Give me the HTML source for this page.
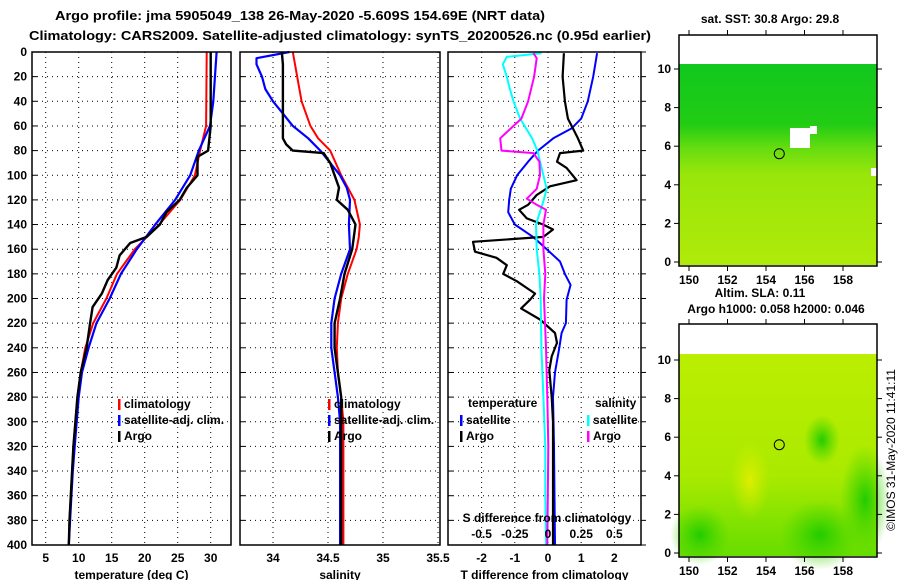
<!DOCTYPE html>
<html><head><meta charset="utf-8"><style>
html,body{margin:0;padding:0;background:#fff;}
svg{display:block;font-family:"Liberation Sans",sans-serif;font-weight:bold;}
</style></head><body>
<svg id="chart" width="900" height="580" viewBox="0 0 900 580" xmlns="http://www.w3.org/2000/svg">
<text x="300" y="20" font-size="13" text-anchor="middle" textLength="490" lengthAdjust="spacingAndGlyphs">Argo profile: jma 5905049_138 26-May-2020 -5.609S 154.69E (NRT data)</text>
<text x="340" y="40" font-size="13" text-anchor="middle" textLength="622" lengthAdjust="spacingAndGlyphs">Climatology: CARS2009. Satellite-adjusted climatology: synTS_20200526.nc (0.95d earlier)</text>
<g id="maps"></g>
<g id="plots"></g>
<text transform="translate(895,450) rotate(-90)" font-size="12" font-weight="normal" text-anchor="middle">©IMOS 31-May-2020 11:41:11</text>
</svg>
<script>
// ---- data ----
const depthTicks=[0,20,40,60,80,100,120,140,160,180,200,220,240,260,280,300,320,340,360,380,400];
const tempTicks=[5,10,15,20,25,30];
const salTicks=[34,34.5,35,35.5];
const tdiffTicks=[-2,-1,0,1,2];
const sdiffTicks=[-0.5,-0.25,0,0.25,0.5];
const sdiffTickLabels=['-0.5','-0.25','0','0.25','0.5'];

const tClimDepth=[0,60,80,100,120,140,160,180,200,220,240,260,280,300,320,340,360,380,400];
const tClim=[29.4,29.3,28.4,27.6,25.4,22.2,18.5,15.8,14.2,12.2,11.0,10.3,9.8,9.5,9.2,9.0,8.8,8.6,8.5];
const tSatDepth=[0,40,60,80,100,120,140,160,180,200,220,240,260,280,300,320,340,360,380,400];
const tSat=[30.9,30.4,29.9,28.2,26.9,24.6,21.6,18.8,16.4,14.7,12.7,11.5,10.5,10.0,9.7,9.4,9.1,8.9,8.7,8.5];
const tArgoDepth=[0,60,80,85,100,110,120,130,140,150,155,165,175,185,196,207,221,240,260,280,300,320,340,360,380,400];
const tArgo=[30.0,30.0,29.6,28.0,28.0,26.4,25.3,23.3,22.3,20.3,17.8,16.2,15.7,14.4,13.5,12.1,11.7,11.2,10.3,9.8,9.5,9.2,9.0,8.8,8.6,8.5];

const sClimDepth=[0,10,20,40,60,70,80,100,120,140,150,160,180,200,220,240,260,280,300,400];
const sClim=[34.18,34.20,34.22,34.26,34.34,34.41,34.52,34.62,34.74,34.79,34.78,34.76,34.68,34.62,34.59,34.58,34.59,34.62,34.64,34.64];
const sSatDepth=[0,5,10,20,30,40,50,60,70,80,90,100,110,120,140,160,180,200,220,240,260,280,300,400];
const sSat=[34.15,33.85,33.85,33.90,33.93,34.00,34.09,34.18,34.32,34.43,34.52,34.61,34.67,34.70,34.69,34.70,34.62,34.56,34.53,34.53,34.56,34.59,34.61,34.61];
const sArgoDepth=[0,10,70,75,80,82,90,100,110,115,120,128,140,160,180,200,220,240,260,280,400];
const sArgo=[34.08,34.09,34.09,34.12,34.18,34.46,34.52,34.56,34.60,34.59,34.58,34.68,34.75,34.72,34.65,34.61,34.56,34.56,34.59,34.62,34.62];

const dTArgoDepth=[1,20,40,54,62,70,80,82,89,94,104,109,116,124,128,135,140,144,150,154,162,167,173,180,186,196,201,208,217,228,236,247,258,280,300,400];
const dTArgo=[0.48,0.44,0.51,0.6,0.75,0.9,1.06,0.36,0.27,0.56,0.86,0.06,-0.34,-0.6,-0.87,-0.64,-0.15,0.15,-0.14,-2.26,-2.2,-1.55,-1.24,-1.35,-0.94,-0.39,-0.54,-0.81,-0.24,0.21,0.27,0.11,0.04,0.11,0.15,0.15];
const dTSatDepth=[1,20,40,54,62,70,80,89,100,111,120,130,140,150,160,170,180,189,201,220,228,240,260,280,320,400];
const dTSat=[1.48,1.36,1.2,1.0,0.71,0.16,-0.3,-0.6,-0.93,-1.12,-1.17,-1.2,-1.0,-0.45,-0.04,0.36,0.51,0.68,0.56,0.54,0.41,0.34,0.21,0.15,0.18,0.21];
const dSSatDepth=[1,4,10,20,29,40,54,70,80,100,111,121,140,160,180,200,240,280,320,360,400];
const dSSat=[-0.05,-0.31,-0.34,-0.31,-0.29,-0.26,-0.21,-0.12,-0.08,-0.035,-0.01,-0.035,-0.09,-0.085,-0.065,-0.055,-0.05,-0.035,-0.02,-0.02,-0.015];
const dSArgoDepth=[1,5,20,40,54,65,70,80,82,89,100,111,119,124,128,140,160,180,200,240,280,320,400];
const dSArgo=[-0.11,-0.085,-0.105,-0.15,-0.2,-0.31,-0.36,-0.35,-0.11,-0.065,-0.06,-0.085,-0.16,-0.085,-0.015,-0.035,-0.035,-0.02,-0.03,-0.015,-0.005,0.002,-0.005];

const latTicks=[0,2,4,6,8,10];
const lonTicks=[150,152,154,156,158];

// ---- helpers ----
const NS='http://www.w3.org/2000/svg';
const plots=document.getElementById('plots');
const maps=document.getElementById('maps');
function mk(tag,attrs,parent){const e=document.createElementNS(NS,tag);for(const k in attrs)e.setAttribute(k,attrs[k]);(parent||plots).appendChild(e);return e;}
const yD=d=>52+d*1.2325;
const top0=52,bot0=545;
function panel(x0,x1,name,xTicks,xFn,labels,title){
  const g=mk('g',{});
  
  
  depthTicks.forEach(d=>{if(d>0&&d<400){const l=mk('line',{x1:x0,x2:x1,y1:yD(d),y2:yD(d),stroke:'#000','stroke-width':1,'stroke-dasharray':'1,4'},g);}
    const t=mk('line',{x1:x0,x2:x0+5,y1:yD(d),y2:yD(d),stroke:'#000','stroke-width':1},g);});
  xTicks.forEach((v,i)=>{const x=xFn(v);
    if(x>x0+1&&x<x1-1){const l=mk('line',{x1:x,x2:x,y1:top0,y2:bot0,stroke:'#000','stroke-width':1,'stroke-dasharray':'1,4'},g);}
    const tx=mk('text',{x:x,y:562,'font-size':12,'text-anchor':'middle'},g);tx.textContent=labels[i];
    });
  const tt=mk('text',{x:(x0+x1)/2,y:579,'font-size':12,'text-anchor':'middle'},g);tt.textContent=title;
  
  return g;
}
function series(g,depths,vals,xFn,color,w,name){
  const pts=depths.map((d,i)=>xFn(vals[i]).toFixed(1)+','+yD(d).toFixed(1)).join(' ');
  const p=mk('polyline',{points:pts,fill:'none',stroke:color,'stroke-width':w,'stroke-linejoin':'round'},g);
  
}
function frame(g,x0,x1){const r=mk('rect',{x:x0,y:top0,width:x1-x0,height:bot0-top0,fill:'none',stroke:'#000','stroke-width':1.5},g);}
function legend(g,x,y,color,label){
  const b=mk('rect',{x:x,y:y-9,width:2.5,height:11,fill:color},g);
  
  const t=mk('text',{x:x+6,y:y,'font-size':12},g);t.textContent=label;
  
}

// depth labels
depthTicks.forEach(d=>{const t=mk('text',{x:27,y:yD(d)+4,'font-size':12,'text-anchor':'end'});t.textContent=d;
  });

// panel 1: temperature
const xT=t=>45.7+(t-5)*6.6;
const g1=panel(32,231,'temperature-panel',tempTicks,xT,tempTicks.map(String),'temperature (deg C)');
series(g1,tClimDepth,tClim,xT,'#f00',2,'temp-climatology-line');
series(g1,tSatDepth,tSat,xT,'#00f',2.2,'temp-satellite-line');
series(g1,tArgoDepth,tArgo,xT,'#000',2.4,'temp-argo-line');
frame(g1,32,231);
legend(g1,118,408,'#f00','climatology');legend(g1,118,424,'#00f','satellite-adj. clim.');legend(g1,118,440,'#000','Argo');

// panel 2: salinity
const xS=s=>273+(s-34)*110;
const g2=panel(240,440,'salinity-panel',salTicks,xS,['34','34.5','35','35.5'],'salinity');
series(g2,sClimDepth,sClim,xS,'#f00',2,'sal-climatology-line');
series(g2,sSatDepth,sSat,xS,'#00f',2.2,'sal-satellite-line');
series(g2,sArgoDepth,sArgo,xS,'#000',2.4,'sal-argo-line');
frame(g2,240,440);
legend(g2,328,408,'#f00','climatology');legend(g2,328,424,'#00f','satellite-adj. clim.');legend(g2,328,440,'#000','Argo');

// panel 3: differences
const xDT=v=>548+v*33.2;
const xDS=v=>548+v*132.8;
const g3=panel(448,641,'difference-panel',tdiffTicks,xDT,tdiffTicks.map(String),'T difference from climatology');
series(g3,dTSatDepth,dTSat,xDT,'#00f',2,'tdiff-satellite-line');
series(g3,dTArgoDepth,dTArgo,xDT,'#000',2.2,'tdiff-argo-line');
series(g3,dSSatDepth,dSSat,xDS,'#0ff',2,'sdiff-satellite-line');
series(g3,dSArgoDepth,dSArgo,xDS,'#f0f',2,'sdiff-argo-line');
frame(g3,448,641);
depthTicks.forEach(d=>mk('line',{x1:641,x2:646,y1:yD(d),y2:yD(d),stroke:'#000','stroke-width':1},g3));
{const t=mk('text',{x:468,y:407,'font-size':12},g3);t.textContent='temperature';}
{const t=mk('text',{x:595,y:407,'font-size':12},g3);t.textContent='salinity';}
legend(g3,460,424,'#00f','satellite');legend(g3,460,440,'#000','Argo');
legend(g3,587,424,'#0ff','satellite');legend(g3,587,440,'#f0f','Argo');
{const t=mk('text',{x:547,y:522,'font-size':12,'text-anchor':'middle'},g3);t.textContent='S difference from climatology';}
sdiffTicks.forEach((v,i)=>{const t=mk('text',{x:xDS(v),y:538,'font-size':12,'text-anchor':'middle'},g3);t.textContent=sdiffTickLabels[i];
  });

// ---- maps ----
function map(y0,y1,dataTop,name,fill,extra){
  const g=mk('g',{},maps);
  
  const lat0=y1-4;
  const yL=l=>lat0-l*19.3, xL=l=>689+(l-150)*19.25;
  mk('rect',{x:679,y:dataTop,width:198,height:y1-dataTop-1,fill:fill},g);
  extra(g,xL,yL);
  const r=mk('rect',{x:679,y:y0,width:198,height:y1-y0,fill:'none',stroke:'#000','stroke-width':1.5},g);
  
  latTicks.forEach(l=>{const y=yL(l);mk('line',{x1:674,x2:679,y1:y,y2:y,stroke:'#000'},g);mk('line',{x1:877,x2:882,y1:y,y2:y,stroke:'#000'},g);
    const t=mk('text',{x:671,y:y+4,'font-size':12,'text-anchor':'end'},g);t.textContent=l;});
  lonTicks.forEach(l=>{const x=xL(l);mk('line',{x1:x,x2:x,y1:y0-5,y2:y0,stroke:'#000'},g);mk('line',{x1:x,x2:x,y1:y1,y2:y1+5,stroke:'#000'},g);
    const t=mk('text',{x:x,y:y1+18,'font-size':12,'text-anchor':'middle'},g);t.textContent=l;});
  const c=mk('circle',{cx:xL(154.69),cy:yL(5.61),r:5,fill:'none',stroke:'#000','stroke-width':1},g);
  
}
const defs=mk('defs',{},maps);
defs.innerHTML='<linearGradient id="sstg" x1="0" y1="0" x2="0" y2="1"><stop offset="0" stop-color="#11c81e"/><stop offset="0.3" stop-color="#22cc14"/><stop offset="0.42" stop-color="#66dd10"/><stop offset="0.55" stop-color="#99e60a"/><stop offset="1" stop-color="#b0ea0a"/></linearGradient>'+
'<linearGradient id="slag" x1="0" y1="0" x2="0" y2="1"><stop offset="0" stop-color="#bbee00"/><stop offset="0.6" stop-color="#aaea00"/><stop offset="1" stop-color="#66dd00"/></linearGradient>'+
'<radialGradient id="blob"><stop offset="0" stop-color="#22cc00" stop-opacity="1"/><stop offset="1" stop-color="#44d400" stop-opacity="0"/></radialGradient>'+
'<radialGradient id="blobY"><stop offset="0" stop-color="#ddee00" stop-opacity="1"/><stop offset="1" stop-color="#ccee00" stop-opacity="0"/></radialGradient>';
map(35,266,64,'sst-map','url(#sstg)',(g,xL,yL)=>{
  mk('rect',{x:790,y:128,width:20,height:20,fill:'#fff'},g);
  mk('rect',{x:810,y:126,width:7,height:8,fill:'#fff'},g);
  mk('rect',{x:871,y:168,width:6,height:8,fill:'#fff'},g);
});
{const t=mk('text',{x:770,y:23,'font-size':12,'text-anchor':'middle'},maps);t.textContent='sat. SST: 30.8 Argo: 29.8';}
map(324,557,354,'sla-map','url(#slag)',(g,xL,yL)=>{
  mk('ellipse',{cx:820,cy:535,rx:40,ry:35,fill:'url(#blob)'},g);
  mk('ellipse',{cx:700,cy:535,rx:30,ry:30,fill:'url(#blob)'},g);
  mk('ellipse',{cx:865,cy:500,rx:25,ry:55,fill:'url(#blob)'},g);
  mk('ellipse',{cx:822,cy:440,rx:18,ry:25,fill:'url(#blob)'},g);
  mk('ellipse',{cx:750,cy:480,rx:20,ry:40,fill:'url(#blobY)'},g);
});
{const t=mk('text',{x:760,y:297,'font-size':12,'text-anchor':'middle'},maps);t.textContent='Altim. SLA: 0.11';}
{const t=mk('text',{x:776,y:313,'font-size':12,'text-anchor':'middle'},maps);t.textContent='Argo h1000: 0.058 h2000: 0.046';}
</script>
</body></html>
